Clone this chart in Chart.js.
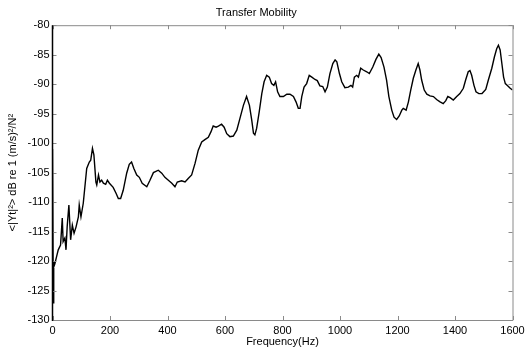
<!DOCTYPE html>
<html>
<head>
<meta charset="utf-8">
<script src="https://cdn.jsdelivr.net/npm/chart.js@4/dist/chart.umd.min.js"></script>
<style>
  html, body { margin: 0; padding: 0; background: #fff; }
  #wrap { width: 525px; height: 351px; }
</style>
</head>
<body>
<div id="wrap"><canvas id="chart" width="525" height="351"></canvas></div>
<script>
// values
const freqHz = [
  0, 2, 3.5, 5, 8, 14, 20, 28, 34, 37, 43, 47, 51, 57, 63, 69, 75, 82, 90, 93,
  99, 107, 119, 128, 133, 139, 144, 151, 154, 160, 165, 171, 177, 185, 191, 198, 211, 221, 229, 237,
  246, 258, 267, 275, 283, 293, 302, 312, 328, 339, 351, 368, 380, 391, 403, 415, 426, 434, 449, 461,
  472, 484, 496, 507, 519, 530, 542, 551, 559, 569, 577, 588, 597, 606, 617, 629, 641, 652, 664, 675,
  685, 693, 699, 704, 710, 719, 728, 736, 745, 754, 762, 770, 776, 783, 791, 803, 815, 826, 838, 847,
  855, 861, 867, 875, 884, 893, 902, 913, 921, 930, 940, 948, 956, 965, 975, 983, 989, 998, 1006, 1017,
  1029, 1038, 1044, 1050, 1058, 1064, 1072, 1081, 1093, 1102, 1114, 1125, 1135, 1143, 1153, 1162, 1170, 1180, 1188, 1197,
  1206, 1215, 1220, 1230, 1238, 1246, 1255, 1264, 1272, 1278, 1284, 1293, 1302, 1313, 1325, 1336, 1348, 1359, 1368, 1375,
  1383, 1394, 1406, 1417, 1429, 1437, 1446, 1452, 1458, 1466, 1473, 1483, 1494, 1507, 1516, 1528, 1537, 1545, 1551, 1557,
  1563, 1569, 1575, 1584, 1592, 1600
];
const levelDb = [
  -101, -120, -127.2, -121, -120.5, -119.3, -118.1, -117.3, -112.7, -116.7, -116.1, -118.1, -114.2, -110.5, -116.4, -113.9, -115.3, -114.2, -112.5, -110.5,
  -112.5, -110.2, -104.3, -103.2, -102.9, -100.9, -102, -106.6, -107.1, -105.4, -106.6, -106.3, -106.8, -107, -106.3, -106.8, -107.5, -108.5, -109.4, -109.4,
  -108, -105.1, -103.6, -103.2, -104.3, -105.4, -105.8, -106.8, -107.4, -106.3, -105, -104.6, -105.1, -105.8, -106.3, -106.8, -107.4, -106.6, -106.4, -106.6,
  -106, -105.4, -103.4, -101.2, -99.8, -99.4, -99, -98.1, -97.1, -97.3, -97.1, -96.8, -97.3, -98.4, -98.9, -98.8, -97.8, -95.8, -93.6, -92.1,
  -93.6, -96.1, -98.3, -98.6, -97.5, -94.7, -91.6, -89.6, -88.5, -88.8, -89.9, -90.2, -89.6, -91.3, -92.1, -92.1, -91.7, -91.7, -92.1, -93,
  -94.1, -94.1, -92.1, -90.5, -89.9, -88.5, -88.8, -89.2, -89.4, -90.3, -90.4, -91.3, -90.5, -88.2, -86.5, -85.9, -86.2, -88.2, -89.6, -90.6,
  -90.5, -90.2, -90.5, -88.8, -88.5, -88.8, -87.3, -87.6, -87.9, -88.2, -87.1, -85.8, -84.9, -85.5, -87.1, -89.3, -92.1, -94.4, -95.6, -96,
  -95.4, -94.4, -94.1, -94.4, -93, -91, -89, -87.6, -86.5, -87.6, -89.3, -91, -91.7, -92, -92.1, -92.6, -93, -93.3, -92.8, -92.1,
  -92.3, -92.7, -92.1, -91.6, -90.7, -89.3, -87.9, -87.7, -88.5, -90.2, -91.3, -91.6, -91.6, -90.9, -89.3, -87.3, -85.4, -84, -83.4, -84.2,
  -86.5, -88.8, -89.9, -90.3, -90.7, -91
];
const xTicks = [0, 200, 400, 600, 800, 1000, 1200, 1400, 1600];
const yTicks = [-130, -125, -120, -115, -110, -105, -100, -95, -90, -85, -80];

const points = freqHz.map((f, i) => ({ x: f, y: levelDb[i] }));
const FONT = '"Liberation Sans", Arial, Helvetica, sans-serif';

// MATLAB style box with inward ticks on all four sides
const matlabBox = {
  id: 'matlabBox',
  afterDraw(chart) {
    const { ctx, chartArea: a, scales: { x, y } } = chart;
    const len = 4;
    ctx.save();
    ctx.strokeStyle = '#8a8a8a';
    ctx.lineWidth = 1;
    ctx.beginPath();
    ctx.moveTo(a.left, a.top + 0.5); ctx.lineTo(a.right + 0.5, a.top + 0.5);
    ctx.lineTo(a.right + 0.5, a.bottom + 0.5); ctx.lineTo(a.left, a.bottom + 0.5);
    xTicks.forEach(v => {
      const px = Math.round(x.getPixelForValue(v)) + 0.5;
      ctx.moveTo(px, a.bottom); ctx.lineTo(px, a.bottom - len);
      ctx.moveTo(px, a.top); ctx.lineTo(px, a.top + len);
    });
    yTicks.forEach(v => {
      const py = Math.round(y.getPixelForValue(v)) + 0.5;
      ctx.moveTo(a.left, py); ctx.lineTo(a.left + len, py);
      ctx.moveTo(a.right, py); ctx.lineTo(a.right - len, py);
    });
    ctx.stroke();
    ctx.strokeStyle = '#000';
    ctx.lineWidth = 1.5;
    ctx.beginPath();
    ctx.moveTo(a.left, a.top); ctx.lineTo(a.left, a.bottom + 1);
    ctx.stroke();
    ctx.restore();
  }
};

new Chart(document.getElementById('chart'), {
  type: 'line',
  data: {
    datasets: [{
      data: points,
      borderColor: '#000',
      borderWidth: 1.4,
      pointRadius: 0,
      tension: 0,
      fill: false
    }]
  },
  options: {
    responsive: false,
    animation: false,
    devicePixelRatio: 1,
    layout: { padding: { left: 0, right: 12.5, top: 0, bottom: 0 } },
    plugins: {
      legend: { display: false },
      tooltip: { enabled: false },
      title: {
        display: true,
        text: 'Transfer Mobility',
        color: '#000',
        font: { family: FONT, size: 11, weight: 'normal' },
        padding: { top: 6, bottom: 6 }
      }
    },
    scales: {
      x: {
        type: 'linear',
        min: 0, max: 1600,
        afterBuildTicks: s => { s.ticks = xTicks.map(v => ({ value: v })); },
        afterFit: s => { s.height = 31; s.paddingRight = 0; s.paddingLeft = 0; },
        grid: { display: false, drawTicks: false },
        border: { display: false },
        ticks: {
          color: '#000', padding: 4, maxRotation: 0,
          font: { family: FONT, size: 11 },
          callback: v => String(v)
        },
        title: {
          display: true,
          text: 'Frequency(Hz)',
          color: '#000',
          font: { family: FONT, size: 11 },
          padding: { top: 0, bottom: 2 }
        }
      },
      y: {
        type: 'linear',
        min: -130, max: -80,
        afterBuildTicks: s => { s.ticks = yTicks.map(v => ({ value: v })); },
        afterFit: s => { s.width = 52.5; s.paddingTop = 0; s.paddingBottom = 0; },
        grid: { display: false, drawTicks: false },
        border: { display: false },
        ticks: {
          color: '#000', padding: 3,
          font: { family: FONT, size: 11 },
          callback: v => String(v)
        },
        title: {
          display: true,
          text: '<|Yt|²> dB re 1 (m/s)²/N²',
          color: '#000',
          font: { family: FONT, size: 11 },
          padding: { top: 6, bottom: 0 }
        }
      }
    }
  },
  plugins: [matlabBox]
});
</script>
</body>
</html>
